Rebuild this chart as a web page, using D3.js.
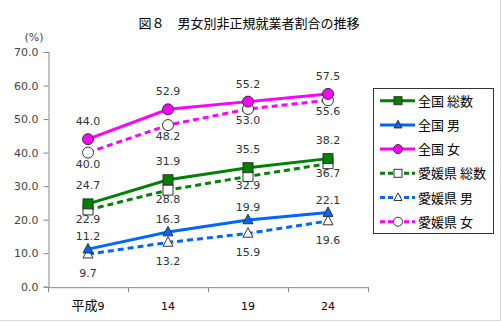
<!DOCTYPE html>
<html><head><meta charset="utf-8">
<script src="https://cdn.jsdelivr.net/npm/d3@7"></script>
<style>body{margin:0;background:#fff}svg{display:block}</style>
</head><body>
<script>
const categories = ["9", "14", "19", "24"];
const yTicks = [0, 10, 20, 30, 40, 50, 60, 70];
const natTotal = [24.7, 31.9, 35.5, 38.2];
const natMale = [11.2, 16.3, 19.9, 22.1];
const natFemale = [44.0, 52.9, 55.2, 57.5];
const ehimeTotal = [22.9, 28.8, 32.9, 36.7];
const ehimeMale = [9.7, 13.2, 15.9, 19.6];
const ehimeFemale = [40.0, 48.2, 53.0, 55.6];
const seriesNames = ["全国 総数", "全国 男", "全国 女", "愛媛県 総数", "愛媛県 男", "愛媛県 女"];

const green = "#008000", blue = "#0066ff", mag = "#ff00ff";
const series = [
  {name: seriesNames[0], values: natTotal, color: green, dash: null, shape: "square", fill: green, off: -18.5},
  {name: seriesNames[1], values: natMale, color: blue, dash: null, shape: "triangle", fill: blue, off: -13},
  {name: seriesNames[2], values: natFemale, color: mag, dash: null, shape: "circle", fill: mag, off: -18},
  {name: seriesNames[3], values: ehimeTotal, color: green, dash: "6,4", shape: "square", fill: "#fff", off: 9},
  {name: seriesNames[4], values: ehimeMale, color: blue, dash: "6,4", shape: "triangle", fill: "#fff", off: 19},
  {name: seriesNames[5], values: ehimeFemale, color: mag, dash: "6,4", shape: "circle", fill: "#fff", off: 11}
];

const W = 502, H = 322;
const svg = d3.select("body").append("svg").attr("width", W).attr("height", H);
svg.append("rect").attr("width", W).attr("height", H).attr("fill", "#fff");
svg.append("path").attr("d", `M${W-1.5},0V${H-1.5}H0`).attr("fill","none").attr("stroke","#d9d9d9").attr("stroke-width",1);

const x = d3.scaleBand().domain(categories).range([48, 368]);
const y = d3.scaleLinear().domain([0, 70]).range([286.7, 52]);

const font = "'DejaVu Sans', 'Noto Sans CJK JP', sans-serif";
const cjk = "'Noto Sans CJK JP', sans-serif";

svg.append("text").attr("x", 249).attr("y", 28).attr("text-anchor", "middle")
  .attr("font-family", cjk).attr("font-size", 13).attr("fill", "#000")
  .text("図８　男女別非正規就業者割合の推移");

svg.append("text").attr("x", 34).attr("y", 41).attr("text-anchor", "middle")
  .attr("font-family", font).attr("font-size", 11).attr("fill", "#444").text("(%)");

// y axis
const yAxis = d3.axisLeft(y).tickValues(yTicks).tickFormat(d3.format(".1f")).tickSize(5).tickPadding(5);
const ga = svg.append("g").attr("transform", "translate(48.5,0)").call(yAxis);
ga.select(".domain").attr("stroke", "#888");
ga.selectAll(".tick line").attr("stroke", "#888");
ga.selectAll("text").attr("font-family", font).attr("font-size", 11).attr("fill", "#444");

// x axis
const xAxis = d3.axisBottom(x).tickSize(0).tickFormat("");
const gx = svg.append("g").attr("transform", `translate(0,${y(0)+0.5})`).call(xAxis);
gx.select(".domain").attr("stroke", "#888");
gx.selectAll(".tick").remove();
const bounds = categories.map(c => x(c)).concat([x.range()[1]]);
gx.selectAll("line.b").data(bounds).enter().append("line")
  .attr("x1", d => Math.round(d)+0.5).attr("x2", d => Math.round(d)+0.5)
  .attr("y1", 0).attr("y2", 5).attr("stroke", "#888");

svg.append("g").selectAll("text").data(categories).enter().append("text")
  .attr("x", d => x(d) + x.bandwidth()/2).attr("y", 310).attr("text-anchor", "middle")
  .attr("font-size", 11).attr("font-family", font).attr("fill", "#000")
  .each(function(d, i) {
    const t = d3.select(this);
    if (i === 0) {
      t.append("tspan").attr("font-family", cjk).attr("font-size", 13).text("平成");
      t.append("tspan").text(d);
    } else t.text(d);
  });

function drawMarker(g, shape, cx, cy, color, fill, s) {
  if (shape === "square") {
    g.append("rect").attr("x", cx - s/2).attr("y", cy - s/2).attr("width", s).attr("height", s)
      .attr("fill", fill).attr("stroke", "#333").attr("stroke-width", 1);
  } else if (shape === "triangle") {
    const h = s * 0.95;
    g.append("path").attr("d", `M${cx},${cy - h*0.6}L${cx + s/2},${cy + h*0.4}L${cx - s/2},${cy + h*0.4}Z`)
      .attr("fill", fill).attr("stroke", "#333").attr("stroke-width", 1);
  } else {
    g.append("circle").attr("cx", cx).attr("cy", cy).attr("r", s/2)
      .attr("fill", fill).attr("stroke", "#333").attr("stroke-width", 1);
  }
}

const line = d3.line().x((d, i) => x(categories[i]) + x.bandwidth()/2).y(d => y(d));
const plot = svg.append("g");
[3,4,5,0,1,2].forEach(k => {
  const s = series[k];
  plot.append("path").datum(s.values).attr("d", line).attr("fill", "none")
    .attr("stroke", s.color).attr("stroke-width", 3).attr("stroke-dasharray", s.dash);
});
[3,4,5,0,1,2].forEach(k => {
  const s = series[k];
  s.values.forEach((v, i) => {
    drawMarker(plot, s.shape, x(categories[i]) + x.bandwidth()/2, y(v), s.color, s.fill, s.shape === "circle" ? 11 : 10);
  });
});
series.forEach(s => {
  plot.append("g").selectAll("text").data(s.values).enter().append("text")
    .attr("x", (d, i) => x(categories[i]) + x.bandwidth()/2)
    .attr("y", d => y(d) + s.off + 4)
    .attr("text-anchor", "middle").attr("font-family", font).attr("font-size", 11).attr("fill", "#333")
    .text(d => d3.format(".1f")(d));
});

// legend
const lg = svg.append("g");
lg.append("rect").attr("x", 373.5).attr("y", 88.5).attr("width", 120).attr("height", 145)
  .attr("fill", "#fff").attr("stroke", "#333").attr("stroke-width", 1);
series.forEach((s, i) => {
  const ly = 100.7 + i * 24.2;
  lg.append("line").attr("x1", 380).attr("x2", 415).attr("y1", ly).attr("y2", ly)
    .attr("stroke", s.color).attr("stroke-width", 3).attr("stroke-dasharray", s.dash ? "5,3" : null);
  drawMarker(lg, s.shape, 398, ly, s.color, s.fill, s.shape === "circle" ? 9 : 8);
  lg.append("text").attr("x", 418).attr("y", ly + 5).attr("font-family", cjk).attr("font-size", 13)
    .attr("fill", "#000").text(s.name);
});
</script>
</body></html>
